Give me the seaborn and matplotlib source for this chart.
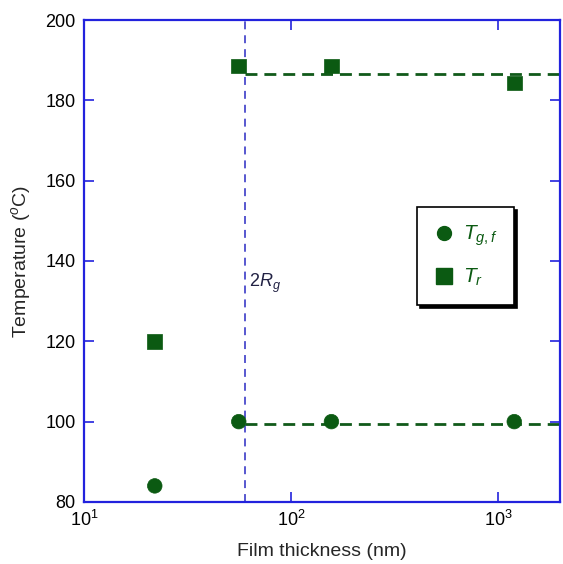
import matplotlib
matplotlib.use("Agg")
import matplotlib.pyplot as plt
import seaborn as sns
import pandas as pd
from matplotlib.lines import Line2D

sns.set_style("white")
plt.rcParams['font.family'] = ['Liberation Sans', 'DejaVu Sans']
plt.rcParams['mathtext.fontset'] = 'custom'
plt.rcParams['mathtext.rm'] = 'Liberation Sans'
plt.rcParams['mathtext.it'] = 'Liberation Sans:italic'

thickness = [22, 56, 157, 1200]
tgf = [84, 100, 100, 100]
tr = [120, 188.5, 188.5, 184.3]
two_rg = 60
tgf_plateau = 99.5
tr_plateau = 186.5
yticks = [80, 100, 120, 140, 160, 180, 200]

green = "#0b5a12"
blue = "#2222dd"

df = pd.DataFrame({
    "thickness": thickness * 2,
    "T": tgf + tr,
    "series": ["Tgf"] * len(tgf) + ["Tr"] * len(tr),
})

fig = plt.figure(figsize=(5.63, 5.64), dpi=100)
ax = fig.add_axes([0.149, 0.110, 0.846, 0.8545])

ax.axvline(two_rg, color="#4a4acc", ls=(0, (4.4, 3.3)), lw=1.3, zorder=1)
ax.hlines([tr_plateau, tgf_plateau], two_rg, 2000, colors="#115a1a",
          linestyles=(0, (4.3, 2.5)), lw=2.0, zorder=1)

sns.scatterplot(data=df, x="thickness", y="T", hue="series", style="series",
                markers={"Tgf": "o", "Tr": "s"},
                palette={"Tgf": green, "Tr": green},
                s=110, edgecolor=green, linewidth=0.5, ax=ax, legend=False, zorder=3)

ax.set_xscale("log")
ax.set_xlim(10, 2000)
ax.set_ylim(80, 200)
ax.set_yticks(yticks)
ax.xaxis.set_minor_locator(matplotlib.ticker.NullLocator())
ax.tick_params(direction="in", length=7, width=1.2, color=blue,
               top=True, right=True, bottom=True, left=True,
               labelsize=13, labelcolor="black", pad=6)
for sp in ax.spines.values():
    sp.set_color(blue)
    sp.set_linewidth(1.6)

ax.set_xlabel("Film thickness (nm)", fontsize=14, labelpad=9)
ax.set_ylabel("Temperature ($^{o}$C)", fontsize=14, labelpad=9)

ax.text(63, 134.5, "$2R_g$", fontsize=13, color="#222244", va="center")

handles = [
    Line2D([], [], marker="o", color=green, ls="none", markersize=10),
    Line2D([], [], marker="s", color=green, ls="none", markersize=11),
]
leg = ax.legend(handles, ["$T_{g,f}$", "$T_r$"], loc="upper left",
                bbox_to_anchor=(0.70, 0.612), frameon=True, fancybox=False,
                shadow={"color": "black", "alpha": 1}, edgecolor="black",
                fontsize=15, handletextpad=0.4, borderpad=0.8, labelspacing=0.9,
                borderaxespad=0, handlelength=1.0)
for t in leg.get_texts():
    t.set_color(green)
leg.get_frame().set_linewidth(1.2)

fig.savefig("out.png", dpi=100)
